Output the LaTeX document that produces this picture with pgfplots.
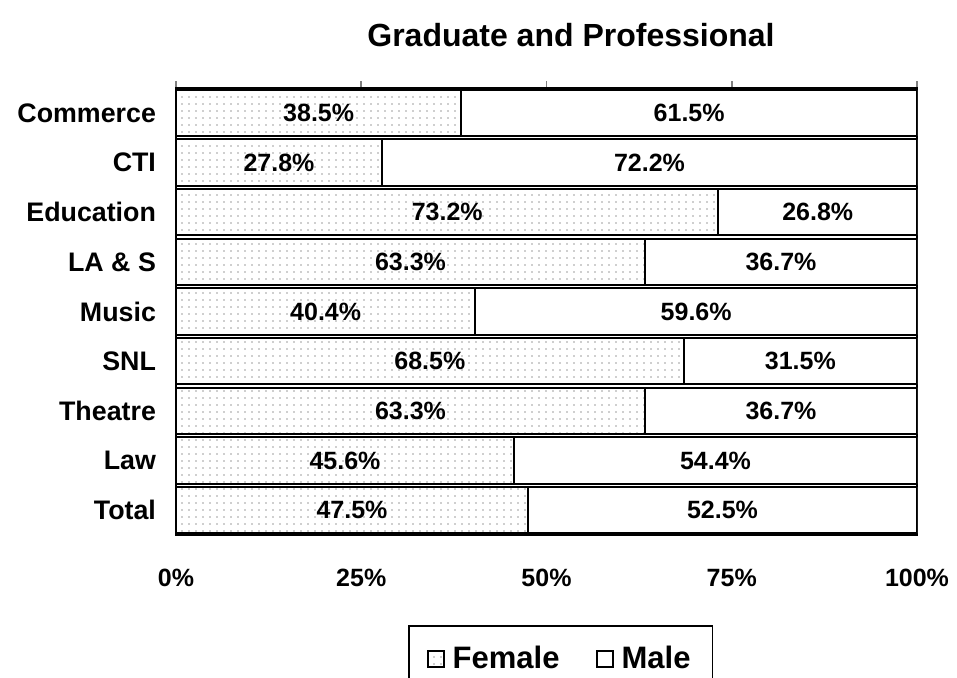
\documentclass[border=0pt]{standalone}
\usepackage{pgfplots}
\pgfplotsset{compat=1.18}
\usepackage{fontspec}
\setmainfont{Liberation Sans}
\usetikzlibrary{patterns.meta}
\begin{document}
\begin{tikzpicture}
\useasboundingbox (0,0) rectangle (478.5pt,339pt);
\node[font=\bfseries\fontsize{16}{19}\selectfont] at (285.5pt,321.5pt) {Graduate and Professional};
\begin{axis}[
  at={(88pt,71.5pt)}, anchor=south west,
  scale only axis, width=370.5pt, height=223.5pt,
  xmin=0, xmax=100, ymin=-0.5, ymax=8.5, y dir=reverse,
  xtick={0,25,50,75,100},
  xticklabels={0\%,25\%,50\%,75\%,100\%},
  xtick pos=right, xticklabel pos=left,
  tick align=center, major tick length=7pt,
  xtick style={line width=0.8pt},
  xticklabel style={font=\bfseries\fontsize{12.5}{15}\selectfont, yshift=-10pt},
  ytick={0,...,8},
  yticklabels={Commerce,CTI,Education,LA \& S,Music,SNL,Theatre,Law,Total},
  ytick style={draw=none},
  yticklabel style={font=\bfseries\fontsize{13.4}{16}\selectfont, xshift=-3pt},
  axis line style={line width=1.1pt},
  reverse legend,
  legend columns=2,
  legend style={at={(axis description cs:0.313,-0.2013)}, anchor=north west,
    draw=black, line width=0.8pt, font=\bfseries\fontsize{15.5}{18}\selectfont,
    inner xsep=9pt, inner ysep=8pt,
    /tikz/every even column/.append style={column sep=16pt}},
  legend image code/.code={\draw[#1] (0pt,-4pt) rectangle (8pt,4pt);\path (10pt,0pt);},
]
\addplot[xbar, bar shift=0pt, bar width=0.93, draw=black, line width=1pt, fill=white]
  coordinates {(100,0) (100,1) (100,2) (100,3) (100,4) (100,5) (100,6) (100,7) (100,8)};
\addlegendentry{Male}
\addplot[xbar, bar shift=0pt, bar width=0.93, draw=black, line width=1pt, fill=white,
  postaction={pattern={Dots[distance=3.5pt,radius=0.4pt]}, pattern color=gray!75}]
  coordinates {(38.5,0) (27.8,1) (73.2,2) (63.3,3) (40.4,4) (68.5,5) (63.3,6) (45.6,7) (47.5,8)};
\addlegendentry{Female}
\addplot[draw=none, forget plot, nodes near coords, point meta=explicit symbolic,
  nodes near coords style={anchor=center, font=\bfseries\fontsize{12.5}{15}\selectfont}]
  coordinates {(19.25,0)[38.5\%] (13.9,1)[27.8\%] (36.6,2)[73.2\%] (31.65,3)[63.3\%]
    (20.2,4)[40.4\%] (34.25,5)[68.5\%] (31.65,6)[63.3\%] (22.8,7)[45.6\%] (23.75,8)[47.5\%]};
\addplot[draw=none, forget plot, nodes near coords, point meta=explicit symbolic,
  nodes near coords style={anchor=center, font=\bfseries\fontsize{12.5}{15}\selectfont}]
  coordinates {(69.25,0)[61.5\%] (63.9,1)[72.2\%] (86.6,2)[26.8\%] (81.65,3)[36.7\%]
    (70.2,4)[59.6\%] (84.25,5)[31.5\%] (81.65,6)[36.7\%] (72.8,7)[54.4\%] (73.75,8)[52.5\%]};
\end{axis}
\end{tikzpicture}
\end{document}
